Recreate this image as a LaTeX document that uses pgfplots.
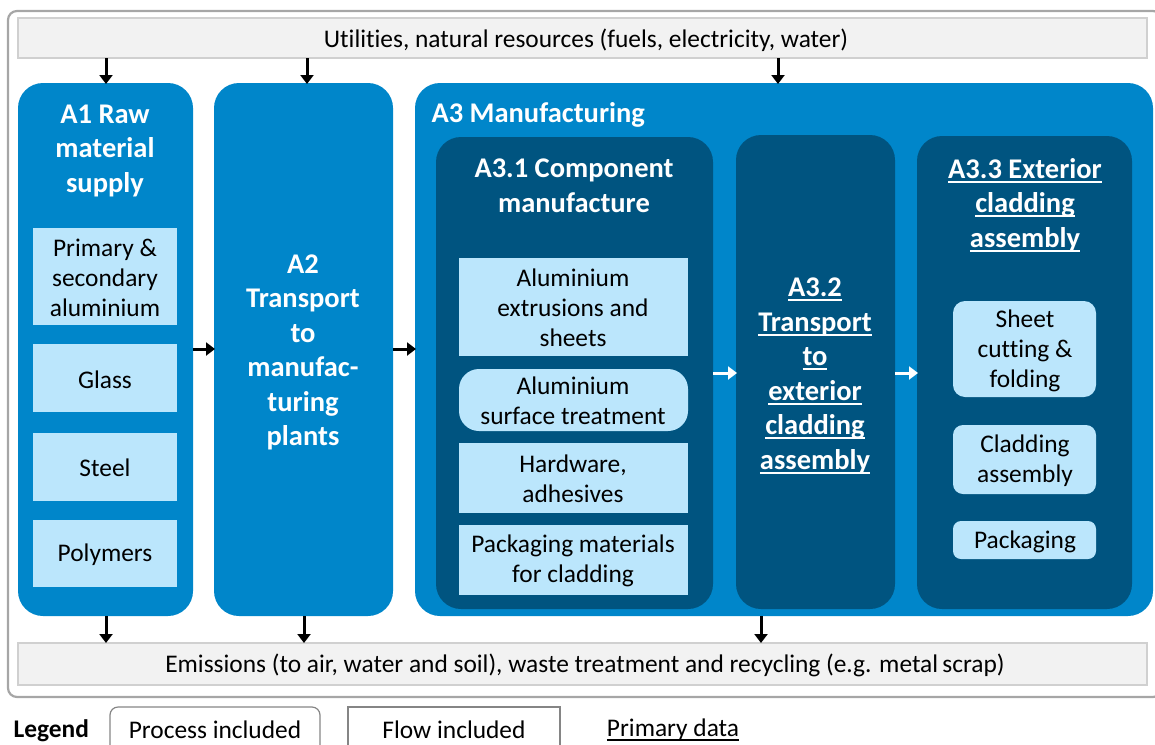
\documentclass[border=0pt]{standalone}
\usepackage{pgfplots}
\pgfplotsset{compat=1.18}
\usepackage{fontspec}
\setmainfont{Carlito}[Ligatures=NoCommon]
\usetikzlibrary{arrows.meta}
\definecolor{midblue}{RGB}{0,134,202}
\definecolor{darkblue}{RGB}{0,84,128}
\definecolor{lightblue}{RGB}{187,230,252}
\definecolor{boxgray}{RGB}{242,242,242}
\definecolor{boxline}{RGB}{208,208,208}
\definecolor{framegray}{RGB}{166,166,166}
\newcommand\ul[1]{\setbox0\hbox{#1}\rlap{\rule[-4.5pt]{\wd0}{2pt}}\box0}
\begin{document}
\begin{tikzpicture}[
  body/.style={align=center, text=black, font=\fontsize{25.4}{30}\selectfont},
  head/.style={align=center, text=white, font=\bfseries\fontsize{28.5}{34.5}\selectfont},
  arr/.style={line width=3pt, -{Triangle[width=13pt,length=9pt]}},
]
\begin{axis}[
  x=1pt, y=1pt, y dir=reverse,
  xmin=0, xmax=1155, ymin=0, ymax=744,
  scale only axis, hide axis, clip=false,
]
\coordinate (TL) at (axis cs:0,0);
\coordinate (BR) at (axis cs:1155,744);
% outer frame
\draw[framegray, line width=2.2pt, rounded corners=9pt] (axis cs:8,11) rectangle (axis cs:1162,697);
% utilities and emissions
\draw[boxline, fill=boxgray, line width=1.2pt] (axis cs:18,18) rectangle (axis cs:1147,58);
\node[body] at (axis cs:586,40) {Utilities, natural resources (fuels, electricity, water)};
\draw[boxline, fill=boxgray, line width=1.2pt] (axis cs:18,643) rectangle (axis cs:1147,685);
\node[body] at (axis cs:585,665) {Emissions (to air, water and soil), waste treatment and recycling (e.g. metal\,scrap)};
% main boxes
\fill[midblue, rounded corners=25pt] (axis cs:18,83) rectangle (axis cs:193,616);
\fill[midblue, rounded corners=25pt] (axis cs:214,83) rectangle (axis cs:393,616);
\fill[midblue, rounded corners=25pt] (axis cs:415,83) rectangle (axis cs:1153,616);
\fill[darkblue, rounded corners=25pt] (axis cs:436,137) rectangle (axis cs:713,609);
\fill[darkblue, rounded corners=25pt] (axis cs:736,135) rectangle (axis cs:895,609);
\fill[darkblue, rounded corners=25pt] (axis cs:917,136) rectangle (axis cs:1132,609);
% titles
\node[head] at (axis cs:105,150.5) {A1 Raw\\material\\supply};
\node[head] at (axis cs:303,352.5) {A2\\Transport\\to\\manufac-\\turing\\plants};
\node[head, anchor=west] at (axis cs:428,115) {A3 Manufacturing};
\node[head] at (axis cs:574,186) {A3.1 Component\\manufacture};
\node[head] at (axis cs:815,376) {\ul{A3.2}\\\ul{Transport}\\\ul{to}\\\ul{exterior}\\\ul{cladding}\\\ul{assembly}};
\node[head] at (axis cs:1025,205) {\ul{A3.3 Exterior}\\\ul{cladding}\\\ul{assembly}};
% A1 light boxes
\fill[lightblue] (axis cs:33,228) rectangle (axis cs:177,325);
\node[body] at (axis cs:105,278) {Primary \&\\secondary\\aluminium};
\fill[lightblue] (axis cs:33,344) rectangle (axis cs:177,412);
\node[body] at (axis cs:105,380) {Glass};
\fill[lightblue] (axis cs:33,433) rectangle (axis cs:177,501);
\node[body] at (axis cs:105,468) {Steel};
\fill[lightblue] (axis cs:33,520) rectangle (axis cs:177,587);
\node[body] at (axis cs:105,555) {Polymers};
% A3.1 light boxes
\fill[lightblue] (axis cs:459,258) rectangle (axis cs:688,356);
\node[body] at (axis cs:573,308) {Aluminium\\extrusions and\\sheets};
\fill[lightblue, rounded corners=20pt] (axis cs:459,369) rectangle (axis cs:688,431);
\node[body] at (axis cs:573,401) {Aluminium\\surface treatment};
\fill[lightblue] (axis cs:459,443) rectangle (axis cs:688,513);
\node[body] at (axis cs:573,479) {Hardware,\\adhesives};
\fill[lightblue] (axis cs:459,525) rectangle (axis cs:688,595);
\node[body] at (axis cs:573,561) {Packaging materials\\for cladding};
% A3.3 light boxes
\fill[lightblue, rounded corners=12pt] (axis cs:953,301) rectangle (axis cs:1096,397);
\node[body] at (axis cs:1025,351) {Sheet\\cutting \&\\folding};
\fill[lightblue, rounded corners=10pt] (axis cs:953,425) rectangle (axis cs:1096,494);
\node[body] at (axis cs:1025,461) {Cladding\\assembly};
\fill[lightblue, rounded corners=8pt] (axis cs:953,521) rectangle (axis cs:1096,559);
\node[body] at (axis cs:1025,542) {Packaging};
% arrows
\draw[arr] (axis cs:106,58) -- (axis cs:106,84);
\draw[arr] (axis cs:307,58) -- (axis cs:307,84);
\draw[arr] (axis cs:778,58) -- (axis cs:778,84);
\draw[arr] (axis cs:106,616) -- (axis cs:106,643);
\draw[arr] (axis cs:304,616) -- (axis cs:304,643);
\draw[arr] (axis cs:761,616) -- (axis cs:761,643);
\draw[arr] (axis cs:193,349) -- (axis cs:215,349);
\draw[arr] (axis cs:393,349) -- (axis cs:416,349);
\draw[arr, white] (axis cs:713,373) -- (axis cs:737,373);
\draw[arr, white] (axis cs:895,373) -- (axis cs:918,373);
% legend
\node[anchor=west, font=\bfseries\fontsize{25.4}{30}\selectfont] at (axis cs:10,731) {Legend};
\draw[framegray!80!black, line width=1.2pt, rounded corners=8pt] (axis cs:110,750) -- (axis cs:110,707) -- (axis cs:320,707) -- (axis cs:320,750);
\node[body] at (axis cs:215,730) {Process included};
\draw[framegray!80!black, line width=1.2pt] (axis cs:348,750) -- (axis cs:348,707) -- (axis cs:560,707) -- (axis cs:560,750);
\node[body] at (axis cs:454,730) {Flow included};
\node[font=\fontsize{25.4}{30}\selectfont] at (axis cs:673,730) {\ul{Primary data}};
\end{axis}
\pgfresetboundingbox
\path[use as bounding box] (TL) rectangle (BR);
\end{tikzpicture}
\end{document}
